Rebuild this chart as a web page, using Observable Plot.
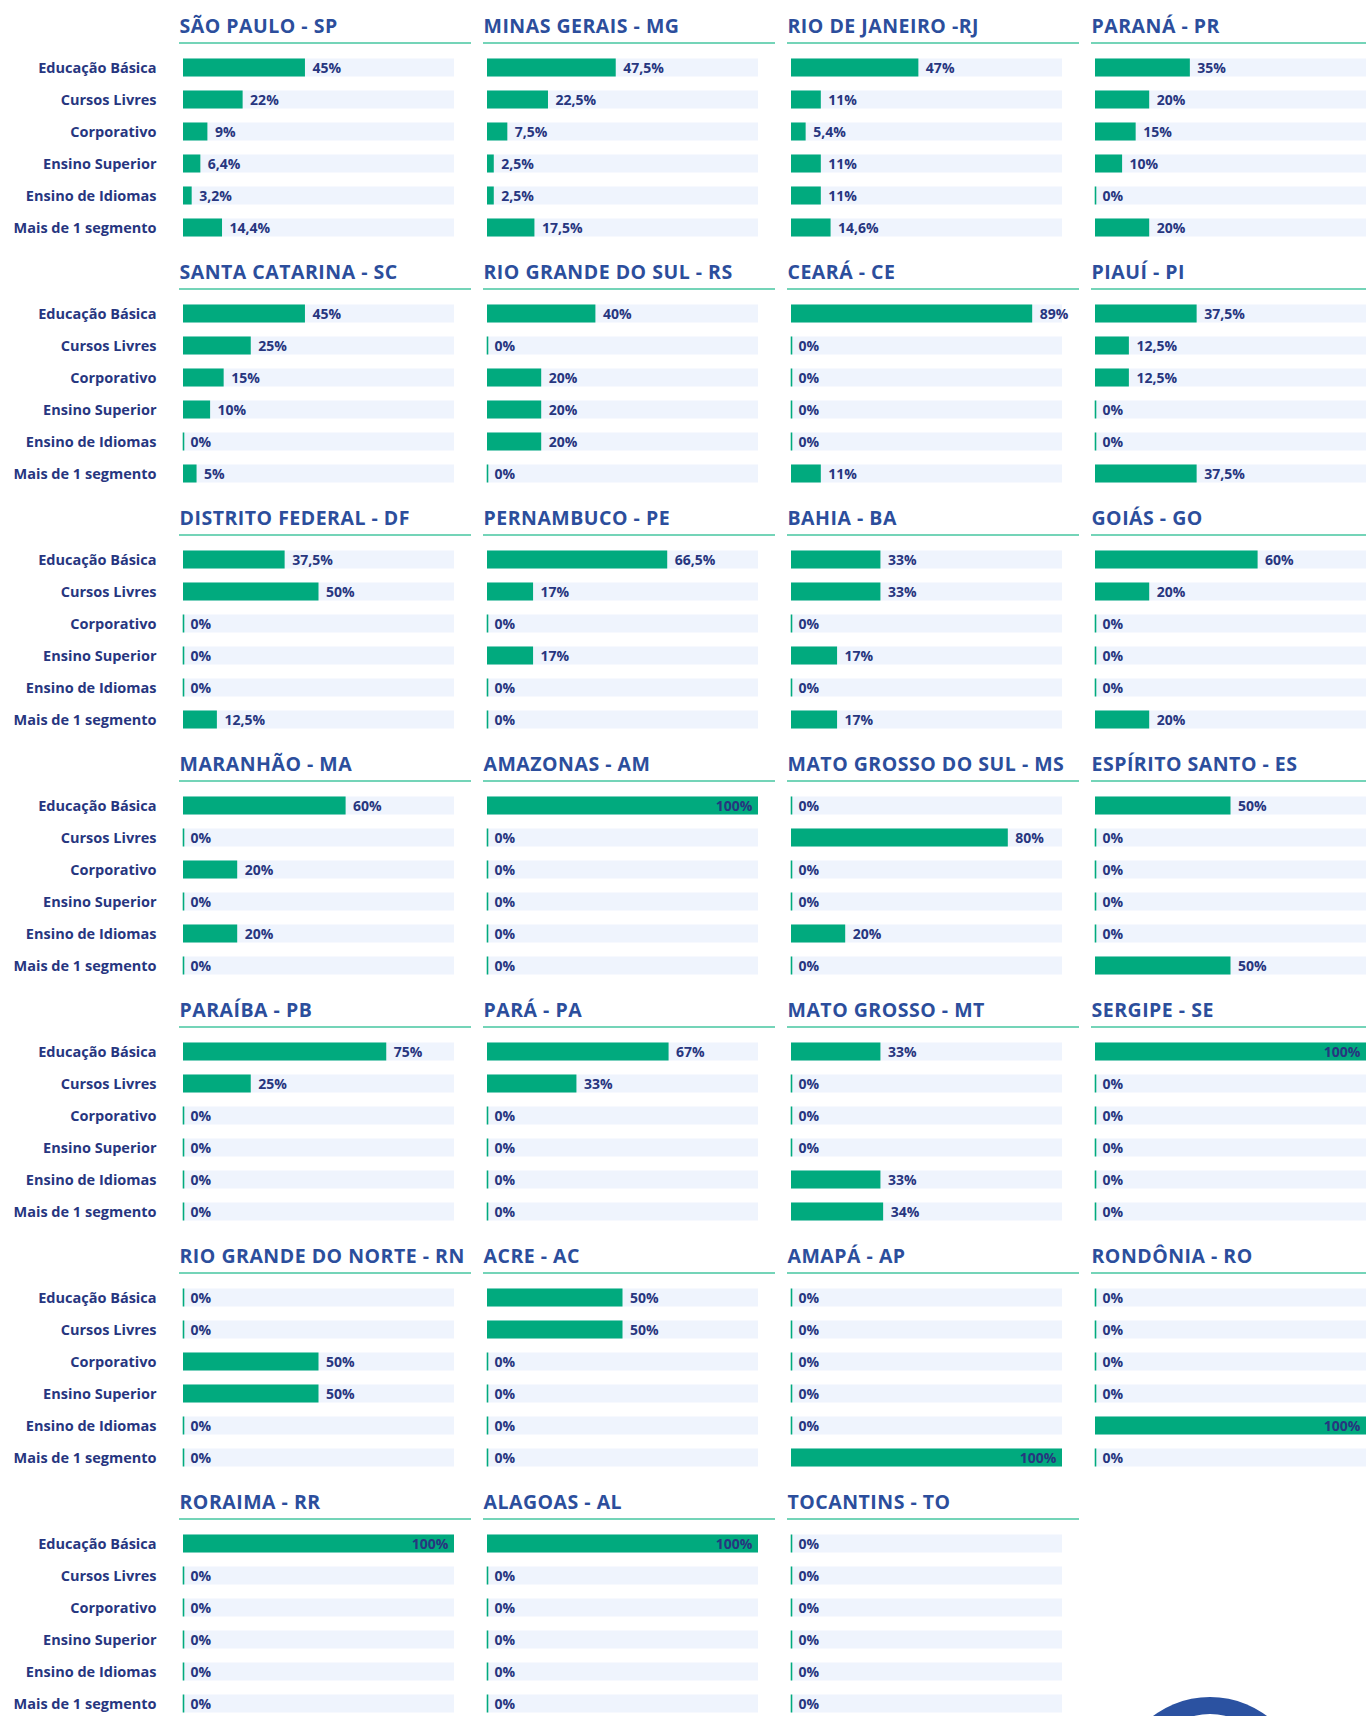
<!DOCTYPE html>
<html>
<head>
<meta charset="utf-8">
<script src="https://cdn.jsdelivr.net/npm/d3@7"></script>
<script src="https://cdn.jsdelivr.net/npm/@observablehq/plot@0.6"></script>
<style>
  html, body { margin: 0; padding: 0; background: #ffffff; overflow: hidden; }
  #chart { position: relative; width: 1366px; }
  .ptitle text { letter-spacing: 0.5px; }
  .logo { position: absolute; left: 1115px; top: 1697px; width: 190px; height: 190px; border-radius: 50%; background: #2b52a1; }
  .logo::after { content: ""; position: absolute; left: 35px; top: 17px; width: 104px; height: 104px; border-radius: 50%; border: 8px solid #ffffff; }
</style>
</head>
<body>
<div id="chart"></div>
<script>
// Segment categories (y axis)
const categories = [
  "Educação Básica",
  "Cursos Livres",
  "Corporativo",
  "Ensino Superior",
  "Ensino de Idiomas",
  "Mais de 1 segmento"
];

// Panel titles, in reading order (4 per row)
const states = [
  "SÃO PAULO - SP", "MINAS GERAIS - MG", "RIO DE JANEIRO -RJ", "PARANÁ - PR",
  "SANTA CATARINA - SC", "RIO GRANDE DO SUL - RS", "CEARÁ - CE", "PIAUÍ - PI",
  "DISTRITO FEDERAL - DF", "PERNAMBUCO - PE", "BAHIA - BA", "GOIÁS - GO",
  "MARANHÃO - MA", "AMAZONAS - AM", "MATO GROSSO DO SUL - MS", "ESPÍRITO SANTO - ES",
  "PARAÍBA - PB", "PARÁ - PA", "MATO GROSSO - MT", "SERGIPE - SE",
  "RIO GRANDE DO NORTE - RN", "ACRE - AC", "AMAPÁ - AP", "RONDÔNIA - RO",
  "RORAIMA - RR", "ALAGOAS - AL", "TOCANTINS - TO"
];

// Share (%) per category, one list per state, same order as states
const shares = [
  [45, 22, 9, 6.4, 3.2, 14.4],
  [47.5, 22.5, 7.5, 2.5, 2.5, 17.5],
  [47, 11, 5.4, 11, 11, 14.6],
  [35, 20, 15, 10, 0, 20],
  [45, 25, 15, 10, 0, 5],
  [40, 0, 20, 20, 20, 0],
  [89, 0, 0, 0, 0, 11],
  [37.5, 12.5, 12.5, 0, 0, 37.5],
  [37.5, 50, 0, 0, 0, 12.5],
  [66.5, 17, 0, 17, 0, 0],
  [33, 33, 0, 17, 0, 17],
  [60, 20, 0, 0, 0, 20],
  [60, 0, 20, 0, 20, 0],
  [100, 0, 0, 0, 0, 0],
  [0, 80, 0, 0, 20, 0],
  [50, 0, 0, 0, 0, 50],
  [75, 25, 0, 0, 0, 0],
  [67, 33, 0, 0, 0, 0],
  [33, 0, 0, 0, 33, 34],
  [100, 0, 0, 0, 0, 0],
  [0, 0, 50, 50, 0, 0],
  [50, 50, 0, 0, 0, 0],
  [0, 0, 0, 0, 0, 100],
  [0, 0, 0, 0, 100, 0],
  [100, 0, 0, 0, 0, 0],
  [100, 0, 0, 0, 0, 0],
  [0, 0, 0, 0, 0, 0]
];

const COLS = 4;
const GREEN = "#01aa7e";
const TRACK = "#eff4fd";
const NAVY = "#27367f";
const TITLE = "#2c4e9c";
const LINE = "#46c6a0";

const panels = states.map((name, i) => ({ name, col: i % COLS, row: Math.floor(i / COLS) }));
const cells = panels.flatMap((p, i) => categories.map((cat, j) => ({
  ...p, cat, value: shares[i][j],
  label: String(shares[i][j]).replace(".", ",") + "%"
})));

const fmt = { fx: "col", fy: "row" };

const chart = Plot.plot({
  width: 1366,
  height: 1721,
  marginLeft: 182,
  marginRight: 0,
  marginTop: 48.5,
  marginBottom: 0,
  style: { fontFamily: "'Open Sans', 'DejaVu Sans', sans-serif", fontWeight: 700, color: NAVY, background: "#ffffff" },
  fx: { domain: [0, 1, 2, 3], paddingInner: 0.1086, paddingOuter: 0, axis: null },
  fy: { domain: [0, 1, 2, 3, 4, 5, 6], paddingInner: 0.2175, paddingOuter: 0, axis: null },
  x: { domain: [0, 100], axis: null },
  y: { domain: categories, paddingInner: 0.44, paddingOuter: 0.22, axis: null },
  marks: [
    Plot.barX(cells, { ...fmt, y: "cat", x1: 0, x2: 100, fill: TRACK }),
    Plot.barX(cells.filter(d => d.value > 0), { ...fmt, y: "cat", x1: 0, x2: "value", fill: GREEN }),
    Plot.tickX(cells.filter(d => d.value === 0), { ...fmt, y: "cat", x: 0, stroke: GREEN, strokeWidth: 1.6 }),
    Plot.text(cells.filter(d => d.value < 95), {
      ...fmt, y: "cat", x: "value", text: "label", dx: 7, dy: 1,
      textAnchor: "start", fill: NAVY, fontSize: 14, fontWeight: 700
    }),
    Plot.text(cells.filter(d => d.value >= 95), {
      ...fmt, y: "cat", x: "value", text: "label", dx: -6, dy: 1,
      textAnchor: "end", fill: NAVY, fontSize: 14, fontWeight: 700
    }),
    Plot.ruleY(panels, {
      ...fmt, y: () => categories[0], x1: 0, x2: 100, dy: -25,
      insetLeft: -4, insetRight: -17, stroke: LINE, strokeWidth: 1.6
    }),
    Plot.text(panels, {
      ...fmt, y: () => categories[0], x: 0, text: "name", dy: -41, dx: -4,
      textAnchor: "start", fill: TITLE, fontSize: 19.5, fontWeight: 700, className: "ptitle"
    }),
    Plot.axisY({ tickSize: 0, tickPadding: 27, fontSize: 14.5, fontWeight: 700, fill: NAVY, label: null })
  ]
});

const root = document.getElementById("chart");
root.appendChild(chart);
const logo = document.createElement("div");
logo.className = "logo";
root.appendChild(logo);
</script>
</body>
</html>
